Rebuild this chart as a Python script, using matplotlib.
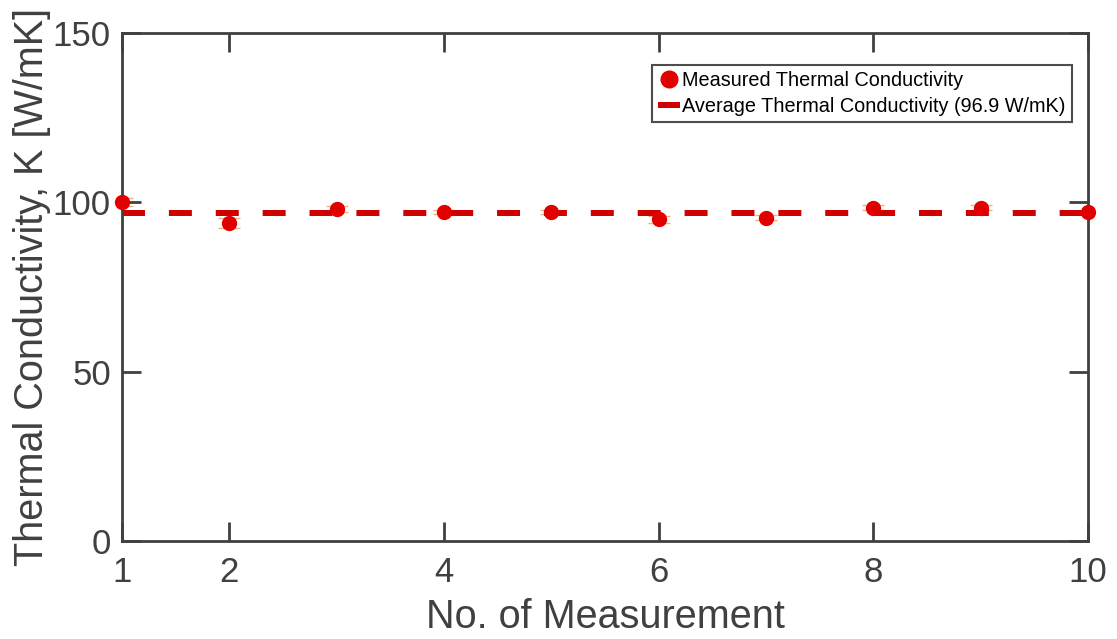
import matplotlib
matplotlib.use("Agg")
import matplotlib.pyplot as plt
import numpy as np

measurement = [1, 2, 3, 4, 5, 6, 7, 8, 9, 10]
conductivity = [100.1, 93.9, 98.0, 97.2, 97.2, 95.0, 95.5, 98.4, 98.4, 97.0]
error = [1.2, 1.5, 0.8, 0.6, 0.6, 1.0, 0.8, 0.8, 0.8, 0.5]
average_k = 96.9

plt.rcParams['font.family'] = ['Liberation Sans', 'DejaVu Sans']
gray = '#404040'

fig = plt.figure(figsize=(11.17, 6.39), dpi=100)
ax = fig.add_axes([122 / 1117, 1 - 541 / 639, (1088 - 122) / 1117, (541 - 33) / 639])

ax.errorbar(measurement, conductivity, yerr=error, fmt='none', ecolor='#f0b080',
            elinewidth=1, capsize=8, capthick=1, zorder=2)
ax.plot(measurement, conductivity, 'o', color='#e00000', markersize=10,
        label='Measured Thermal Conductivity', zorder=3, clip_on=False)
ax.axhline(average_k, color='#d00000', linestyle=(0, (3.85, 4.0)), linewidth=4.3,
           label='Average Thermal Conductivity (96.9 W/mK)', zorder=2.5)

ax.set_xlim(1, 10)
ax.set_ylim(0, 150)
ax.set_xticks([1, 2, 4, 6, 8, 10])
ax.set_yticks([0, 50, 100, 150])
ax.set_xlabel('No. of Measurement', fontsize=28.5, color=gray, labelpad=6)
ax.set_ylabel('Thermal Conductivity, K [W/mK]', fontsize=28.5, color=gray, labelpad=1)

for s in ax.spines.values():
    s.set_color(gray)
    s.set_linewidth(2)
ax.tick_params(direction='in', length=14, width=2, colors=gray, labelsize=25,
               top=True, right=True, pad=8)
ax.tick_params(axis='x', pad=11)

leg = ax.legend(loc='upper right', bbox_to_anchor=(0.983, 0.937), fontsize=14.3,
                frameon=True, fancybox=False, handlelength=1.1, handletextpad=0.1,
                borderpad=0.3, labelspacing=0.35, borderaxespad=0, markerscale=1.2)
leg.get_frame().set_edgecolor('#202020')
leg.get_frame().set_linewidth(1.5)

plt.savefig('out.png', dpi=100)
